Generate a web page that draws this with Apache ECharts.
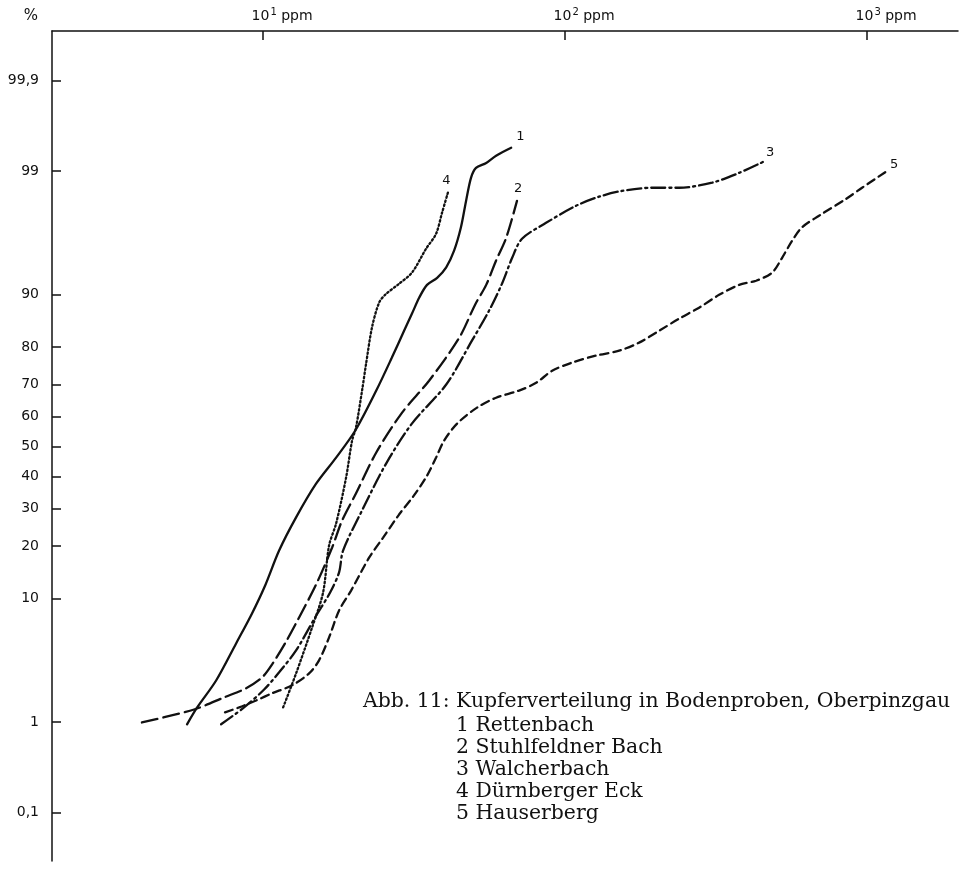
<!DOCTYPE html>
<html>
<head>
<meta charset="utf-8">
<script src="https://cdn.jsdelivr.net/npm/echarts@6/dist/echarts.min.js"></script>
<style>
  html, body { margin: 0; padding: 0; background: #fff; }
  #chart { width: 963px; height: 872px; }
</style>
</head>
<body>
<div id="chart"></div>
<script>
// Achsen
const ppmTicks = [10, 100, 1000];
const ppmTickExp = ['1', '2', '3'];
const pctTicks = [0.1, 1, 10, 20, 30, 40, 50, 60, 70, 80, 90, 99, 99.9];
const pctTickLabels = ['0,1', '1', '10', '20', '30', '40', '50', '60', '70', '80', '90', '99', '99,9'];

// Kurven (ppm / Summenprozent)
const seriesNames = ['Rettenbach', 'Stuhlfeldner Bach', 'Walcherbach', 'Dürnberger Eck', 'Hauserberg'];

const rettenbachPpm = [5.6, 6.05, 6.99, 8.14, 9.19, 10.15, 11.3, 12.86, 14.98, 17.45, 20.2, 23.7, 26.7, 29.3, 31.1, 32.9, 34.9, 37.7, 40.4, 42.9, 45.2, 47.0, 48.8, 50.7, 54.8, 59.1, 66.3];
const rettenbachPct = [0.95, 1.38, 2.41, 4.82, 7.94, 12.0, 19.0, 27.5, 37.7, 46.3, 55.4, 68.2, 77.4, 83.6, 86.9, 89.6, 91.4, 92.3, 93.5, 95.1, 96.8, 98.1, 98.84, 99.07, 99.17, 99.3, 99.42];

const stuhlfeldPpm = [3.97, 5.91, 7.43, 8.78, 9.92, 10.71, 11.92, 13.16, 14.98, 16.93, 18.26, 20.3, 23.7, 28.86, 35.45, 44.6, 50.4, 54.8, 59.1, 63.8, 69.3];
const stuhlfeldPct = [0.99, 1.32, 1.71, 2.06, 2.56, 3.29, 4.99, 7.45, 12.2, 19.7, 26.6, 34.6, 48.0, 61.3, 71.1, 82.1, 88.5, 91.4, 94.2, 96.1, 98.1];

const walcherPpm = [7.26, 8.65, 10.08, 11.3, 12.86, 14.87, 16.67, 17.85, 18.4, 21.27, 25.55, 31.1, 40.4, 49.2, 56.0, 61.8, 66.8, 72.0, 86.5, 108.7, 129.6, 154.5, 194.2, 238.5, 306.8, 376.9, 452.4];
const walcherPct = [0.95, 1.38, 2.01, 2.83, 4.26, 7.45, 10.9, 14.4, 19.0, 29.5, 44.3, 57.7, 70.0, 81.5, 87.45, 91.55, 94.46, 96.04, 97.06, 97.9, 98.26, 98.46, 98.56, 98.56, 98.71, 98.96, 99.19];

const duernbergPpm = [11.65, 12.86, 14.53, 15.8, 16.54, 17.45, 18.83, 19.71, 20.3, 21.27, 21.93, 22.96, 24.22, 25.35, 28.2, 31.1, 34.64, 37.4, 39.14, 41.0];
const duernbergPct = [1.38, 2.77, 6.33, 10.9, 20.2, 25.8, 39.7, 52.0, 56.4, 68.2, 75.8, 84.4, 88.8, 90.0, 91.55, 92.9, 95.26, 96.39, 97.59, 98.43];

const hauserPpm = [7.48, 8.33, 9.48, 10.71, 12.47, 14.2, 15.32, 16.54, 17.85, 19.56, 22.44, 24.97, 28.2, 31.6, 34.9, 37.4, 39.74, 43.9, 51.1, 59.1, 70.4, 80.2, 90.6, 105.5, 126.7, 151.0, 175.8, 204.8, 238.5, 277.8, 323.6, 376.9, 429, 484.6, 523.1, 564.5, 609.2, 693.4, 852, 962.5, 1156];
const hauserPct = [1.24, 1.38, 1.6, 1.86, 2.19, 2.77, 3.55, 5.35, 8.32, 11.2, 17.4, 22.1, 28.3, 34.0, 40.3, 46.3, 52.0, 57.7, 62.9, 66.0, 68.2, 70.5, 73.9, 76.1, 77.9, 79.1, 81.0, 83.6, 86.0, 87.96, 90.0, 91.4, 91.94, 92.9, 94.46, 95.89, 96.8, 97.44, 98.18, 98.56, 98.99];

const captionTitle = 'Abb. 11: Kupferverteilung in Bodenproben, Oberpinzgau';

// Wahrscheinlichkeitsnetz: Prozent -> Normalquantil (Acklam)
function probit(pct) {
  const p = pct / 100;
  const a = [-39.69683028665376, 220.9460984245205, -275.9285104469687, 138.357751867269, -30.66479806614716, 2.506628277459239];
  const b = [-54.47609879822406, 161.5858368580409, -155.6989798598866, 66.80131188771972, -13.28068155288572];
  const c = [-0.007784894002430293, -0.3223964580411365, -2.400758277161838, -2.549671920164869, 4.374664141464968, 2.938163982698783];
  const d = [0.007784695709041462, 0.3224671290700398, 2.445134137142996, 3.754408661907416];
  const lo = 0.02425;
  let q, r;
  if (p < lo) {
    q = Math.sqrt(-2 * Math.log(p));
    return (((((c[0] * q + c[1]) * q + c[2]) * q + c[3]) * q + c[4]) * q + c[5]) / ((((d[0] * q + d[1]) * q + d[2]) * q + d[3]) * q + 1);
  }
  if (p > 1 - lo) {
    q = Math.sqrt(-2 * Math.log(1 - p));
    return -(((((c[0] * q + c[1]) * q + c[2]) * q + c[3]) * q + c[4]) * q + c[5]) / ((((d[0] * q + d[1]) * q + d[2]) * q + d[3]) * q + 1);
  }
  q = p - 0.5;
  r = q * q;
  return (((((a[0] * r + a[1]) * r + a[2]) * r + a[3]) * r + a[4]) * r + a[5]) * q / (((((b[0] * r + b[1]) * r + b[2]) * r + b[3]) * r + b[4]) * r + 1);
}

const pctTickPos = pctTicks.map(probit);

const curves = [
  { ppm: rettenbachPpm, pct: rettenbachPct, dash: 'solid', labelOffset: [5, -11] },
  { ppm: stuhlfeldPpm, pct: stuhlfeldPct, dash: [16, 6], labelOffset: [-3, -12] },
  { ppm: walcherPpm, pct: walcherPct, dash: [14, 4, 2, 4], labelOffset: [3, -9] },
  { ppm: duernbergPpm, pct: duernbergPct, dash: [1.5, 2.6], labelOffset: [-6, -11] },
  { ppm: hauserPpm, pct: hauserPct, dash: [8, 5], labelOffset: [4, -7] }
];

const ink = '#111';
const chart = echarts.init(document.getElementById('chart'));

chart.setOption({
  backgroundColor: '#fff',
  animation: false,
  grid: { left: 52, top: 31, width: 906, height: 830, containLabel: false },
  xAxis: {
    type: 'log',
    logBase: 10,
    position: 'top',
    min: 2,
    max: 2000,
    splitLine: { show: false },
    minorTick: { show: false },
    axisLine: { show: true, onZero: false, lineStyle: { color: ink, width: 1.5 } },
    axisTick: { show: true, inside: true, length: 9, customValues: ppmTicks, lineStyle: { color: ink, width: 1.5 } },
    axisLabel: {
      customValues: ppmTicks,
      margin: 6,
      color: ink,
      formatter: function (v) {
        const i = ppmTicks.findIndex(t => Math.abs(t - v) < 1e-6 * t);
        return '{pad|}{b|10}{s|' + ppmTickExp[i] + '}{u| ppm}';
      },
      rich: {
        pad: { width: 38 },
        b: { fontFamily: 'DejaVu Sans', fontSize: 14, color: ink },
        s: { fontFamily: 'DejaVu Sans', fontSize: 10, color: ink, verticalAlign: 'bottom', padding: [0, 0, 8, 1] },
        u: { fontFamily: 'DejaVu Sans', fontSize: 14, color: ink }
      }
    }
  },
  yAxis: {
    type: 'value',
    min: -3.5,
    max: 3.51,
    name: '%',
    nameLocation: 'end',
    nameGap: 7,
    nameTextStyle: { fontFamily: 'DejaVu Sans', fontSize: 15, color: ink, align: 'right', padding: [0, 14, 0, 0] },
    splitLine: { show: false },
    axisLine: { show: true, onZero: false, lineStyle: { color: ink, width: 1.5 } },
    axisTick: { show: true, inside: true, length: 9, customValues: pctTickPos, lineStyle: { color: ink, width: 1.5 } },
    axisLabel: {
      customValues: pctTickPos,
      margin: 13,
      color: ink,
      fontFamily: 'DejaVu Sans',
      fontSize: 14,
      formatter: function (v) {
        const i = pctTickPos.findIndex(t => Math.abs(t - v) < 1e-6);
        return i >= 0 ? pctTickLabels[i] : '';
      }
    }
  },
  series: curves.map((c, k) => ({
    name: seriesNames[k],
    type: 'line',
    smooth: 0.3,
    symbol: 'none',
    data: c.ppm.map((v, i) => [v, probit(c.pct[i])]),
    lineStyle: { color: ink, width: 2.3, type: c.dash, cap: 'round' },
    endLabel: {
      show: true,
      formatter: String(k + 1),
      distance: 0,
      offset: c.labelOffset,
      fontFamily: 'DejaVu Sans',
      fontSize: 13,
      color: ink
    }
  })),
  graphic: [
    {
      type: 'text',
      left: 363,
      top: 692,
      style: { text: captionTitle, font: '20.4px "DejaVu Serif"', fill: ink }
    },
    {
      type: 'text',
      left: 456,
      top: 715,
      style: {
        text: seriesNames.map((n, k) => (k + 1) + ' ' + n).join('\n'),
        font: '20.4px "DejaVu Serif"',
        lineHeight: 22,
        fill: ink
      }
    }
  ]
});
</script>
</body>
</html>
